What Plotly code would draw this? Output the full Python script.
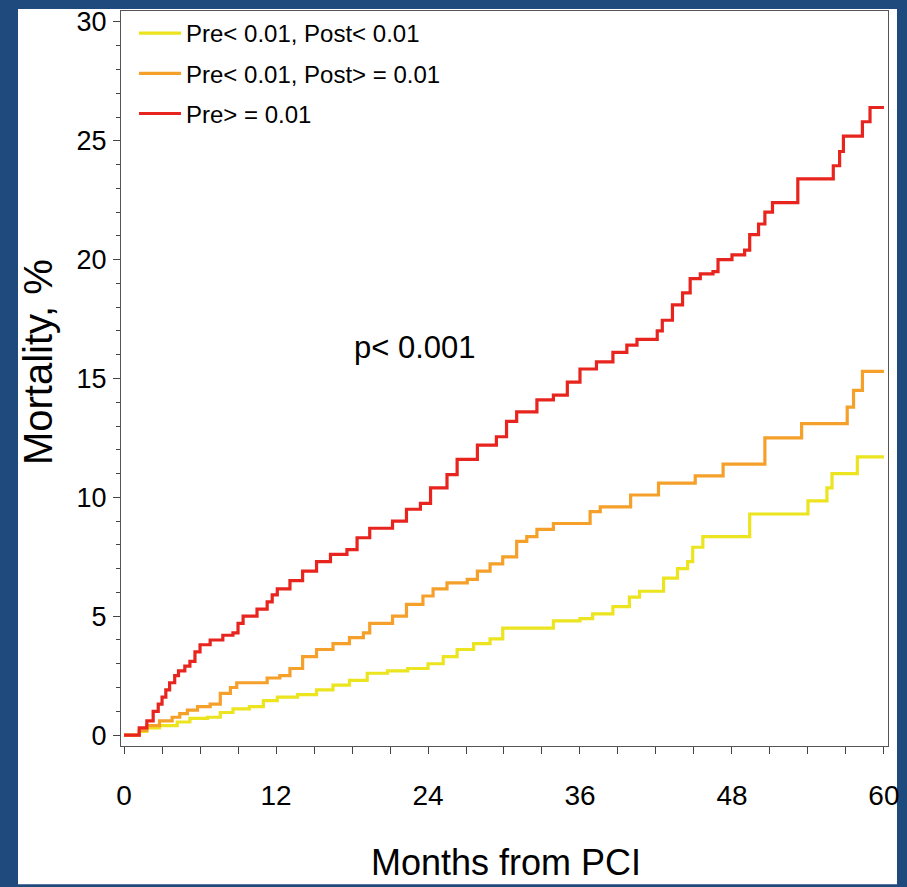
import plotly.graph_objects as go

# ---- data ----
months_red = [0, 1.2, 1.8, 2.3, 2.7, 3.0, 3.3, 3.6, 4.0, 4.3, 4.8, 5.2, 5.6, 6.0, 6.8, 7.8, 8.6, 9.0, 9.4,
              10.5, 11.3, 11.7, 12.1, 13.1, 14.1, 15.2, 16.3, 17.6, 18.4, 19.4, 21.2, 22.3, 23.4, 24.2,
              25.5, 26.3, 27.9, 29.4, 30.2, 31.0, 32.6, 33.9, 35.0, 36.0, 37.3, 38.6, 39.7, 40.5, 42.1,
              42.5, 43.3, 44.1, 44.7, 45.5, 46.5, 46.9, 48.0, 49.0, 49.4, 50.1, 50.6, 51.2, 53.2, 56.0,
              56.5, 56.8, 58.3, 58.9, 60.0]
mort_red = [0, 0.3, 0.6, 1.0, 1.3, 1.6, 1.9, 2.2, 2.5, 2.7, 2.9, 3.1, 3.5, 3.8, 4.0, 4.2, 4.3, 4.7, 5.0,
            5.3, 5.6, 5.9, 6.15, 6.5, 6.9, 7.3, 7.6, 7.8, 8.3, 8.7, 9.0, 9.5, 9.75, 10.4,
            10.96, 11.6, 12.2, 12.55, 13.2, 13.6, 14.1, 14.3, 14.85, 15.4, 15.7, 16.1, 16.4, 16.65, 17.0,
            17.45, 18.1, 18.6, 19.2, 19.4, 19.5, 20.0, 20.2, 20.4, 21.05, 21.5, 22.0, 22.4, 23.4, 23.95,
            24.55, 25.2, 25.8, 26.4, 26.4]

months_orange = [0, 1.2, 1.8, 2.8, 3.8, 4.4, 5.0, 5.8, 6.8, 7.6, 8.4, 8.9, 11.3, 12.3, 13.1, 14.1, 15.2,
                 16.5, 17.8, 18.9, 19.4, 21.2, 22.3, 23.6, 24.4, 25.5, 27.1, 27.9, 28.9, 29.9, 31.0, 31.8,
                 32.6, 33.9, 36.8, 37.6, 40.0, 42.2, 45.1, 47.3, 50.6, 53.5, 57.1, 57.6, 58.3, 60.0]
mort_orange = [0, 0.2, 0.4, 0.6, 0.75, 0.9, 1.05, 1.2, 1.3, 1.75, 2.0, 2.2, 2.4, 2.5, 2.8, 3.3, 3.6,
               3.85, 4.1, 4.3, 4.7, 5.0, 5.5, 5.85, 6.15, 6.4, 6.55, 6.9, 7.2, 7.5, 8.15, 8.35,
               8.65, 8.9, 9.4, 9.6, 10.1, 10.6, 10.9, 11.4, 12.5, 13.1, 13.8, 14.5, 15.3, 15.3]

months_yellow = [0, 1.2, 1.8, 2.8, 4.2, 5.2, 6.6, 7.6, 8.6, 9.9, 11.0, 12.1, 13.7, 15.2, 16.5, 17.8, 19.2,
                 20.8, 22.4, 24.0, 25.2, 26.3, 27.6, 28.9, 29.9, 33.9, 36.0, 37.0, 38.6, 39.9, 40.7, 42.6,
                 43.7, 44.5, 44.9, 45.7, 49.4, 54.0, 55.5, 55.9, 57.9, 60.0]
mort_yellow = [0, 0.15, 0.3, 0.4, 0.55, 0.7, 0.75, 0.95, 1.1, 1.2, 1.45, 1.6, 1.7, 1.9, 2.1, 2.3, 2.6,
               2.7, 2.8, 3.0, 3.3, 3.6, 3.85, 4.05, 4.5, 4.8, 4.9, 5.1, 5.4, 5.8, 6.05, 6.6,
               7.0, 7.3, 7.9, 8.35, 9.3, 9.85, 10.4, 11.0, 11.7, 11.7]

series_names = ["Pre< 0.01, Post< 0.01", "Pre< 0.01, Post> = 0.01", "Pre> = 0.01"]
series_colors = ["#ece41e", "#f5a02a", "#e8241e"]
x_tick_vals = [0, 12, 24, 36, 48, 60]
y_tick_vals = [0, 5, 10, 15, 20, 25, 30]
p_text = "p< 0.001"
x_title = "Months from PCI"
y_title = "Mortality, %"

FONT = "Liberation Sans, Arial, sans-serif"

fig = go.Figure()
for xs, ys, name, col in zip([months_yellow, months_orange, months_red],
                             [mort_yellow, mort_orange, mort_red],
                             series_names, series_colors):
    fig.add_trace(go.Scatter(x=xs, y=ys, mode="lines", name=name, legendgroup=name,
                             line=dict(color=col, width=3.2, shape="hv")))

W, H = 907, 887
L, R, T, B = 121, 19, 7, 141
pw, ph = W - L - R, H - T - B

def px_x(p):
    return (p - L) / pw

def px_y(p):
    return (H - B - p) / ph

fig.add_shape(type="rect", xref="paper", yref="paper",
              x0=px_x(18), x1=px_x(897), y0=px_y(885), y1=px_y(5),
              fillcolor="white", line=dict(width=0), layer="below")

fig.add_annotation(x=23.0, y=16.3, xref="x", yref="y", text=p_text, showarrow=False,
                   xanchor="center", yanchor="middle",
                   font=dict(family=FONT, size=31, color="black"))
fig.add_annotation(x=px_x(38), y=px_y(360), xref="paper", yref="paper", text=y_title,
                   textangle=-90, showarrow=False, xanchor="center", yanchor="middle",
                   font=dict(family=FONT, size=40, color="black"))
fig.add_annotation(x=px_x(506), y=px_y(841), xref="paper", yref="paper", text=x_title,
                   showarrow=False, xanchor="center", yanchor="top",
                   font=dict(family=FONT, size=36, color="black"))

fig.update_layout(
    width=W, height=H,
    margin=dict(l=L, r=R, t=T, b=B),
    paper_bgcolor="#1f4a7e",
    plot_bgcolor="white",
    showlegend=True,
    legend=dict(x=px_x(134), y=1.0, xanchor="left", yanchor="top",
                bgcolor="rgba(0,0,0,0)", tracegroupgap=6, itemwidth=42,
                font=dict(family=FONT, size=24, color="black")),
    xaxis=dict(range=[-0.24, 60.32], tickvals=x_tick_vals, ticks="outside", ticklen=7,
               tickcolor="#444", tickwidth=1,
               minor=dict(dtick=3, tick0=0, ticks="outside", ticklen=7, tickcolor="#444", showgrid=False),
               showgrid=False, zeroline=False, showline=True, linecolor="#555", linewidth=1,
               mirror=True, ticklabelstandoff=17,
               tickfont=dict(family=FONT, size=28, color="black")),
    yaxis=dict(range=[-0.46, 30.46], tickvals=y_tick_vals, ticks="outside", ticklen=7,
               tickcolor="#444", tickwidth=1,
               minor=dict(dtick=1, tick0=0, ticks="outside", ticklen=4, tickcolor="#444", showgrid=False),
               showgrid=False, zeroline=False, showline=True, linecolor="#555", linewidth=1,
               mirror=True, ticklabelstandoff=1,
               tickfont=dict(family=FONT, size=27, color="black")),
)

fig.write_html("out.html")
